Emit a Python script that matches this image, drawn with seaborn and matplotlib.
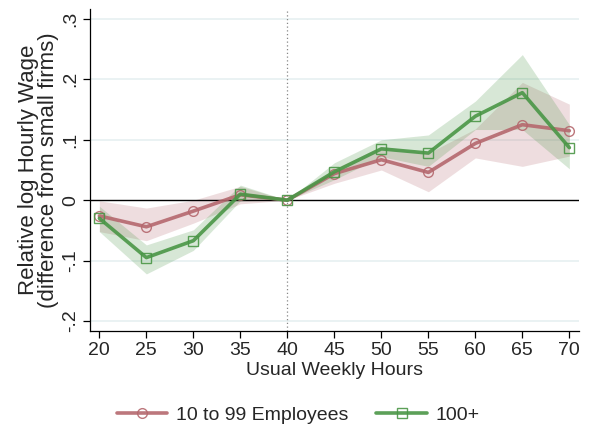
import numpy as np
import pandas as pd
import seaborn as sns
import matplotlib.pyplot as plt

hours = [20, 25, 30, 35, 40, 45, 50, 55, 60, 65, 70]

# 10 to 99 employees
mid_coef = [-0.026, -0.044, -0.018, 0.009, 0.0, 0.044, 0.067, 0.046, 0.094, 0.125, 0.115]
mid_lo = [-0.052, -0.067, -0.038, -0.006, 0.0, 0.028, 0.050, 0.014, 0.070, 0.056, 0.073]
mid_hi = [-0.001, -0.013, 0.000, 0.023, 0.0, 0.052, 0.089, 0.078, 0.118, 0.195, 0.159]

# 100+ employees
big_coef = [-0.030, -0.095, -0.067, 0.010, 0.0, 0.047, 0.085, 0.078, 0.139, 0.178, 0.087]
big_lo = [-0.052, -0.122, -0.083, -0.001, 0.0, 0.034, 0.072, 0.056, 0.117, 0.117, 0.052]
big_hi = [-0.010, -0.074, -0.049, 0.025, 0.0, 0.062, 0.100, 0.108, 0.164, 0.241, 0.125]

labels = ['10 to 99 Employees', '100+']
red = '#b5686e'
green = '#4a9646'

df = pd.DataFrame({
    'hours': hours * 2,
    'coef': mid_coef + big_coef,
    'group': [labels[0]] * len(hours) + [labels[1]] * len(hours),
})

sns.set_style('white')
plt.rcParams['font.family'] = ['Liberation Sans', 'DejaVu Sans']

fig = plt.figure(figsize=(6.15, 4.3), dpi=100)
ax = fig.add_axes([0.1463, 0.2309, 0.7952, 0.7475])

# grid lines (stata style)
for yv in [-0.2, -0.1, 0.1, 0.2, 0.3]:
    ax.axhline(yv, color='#e6f0f1', lw=1.2, zorder=0)

ax.fill_between(hours, mid_lo, mid_hi, color='#b5686e', alpha=0.22, lw=0, zorder=1)
ax.fill_between(hours, big_lo, big_hi, color='#4a9646', alpha=0.22, lw=0, zorder=1)

ax.axhline(0, color='black', lw=1, zorder=2)
ax.axvline(40, color='#888888', lw=0.9, ls=(0, (1, 2)), zorder=2)

sns.lineplot(data=df, x='hours', y='coef', hue='group', style='group',
             palette=[red, green], markers=['o', 's'], dashes=False,
             lw=2.6, markersize=7, markerfacecolor='none',
             markeredgewidth=1.0, ax=ax, zorder=3, legend=False)
for ln, c in zip(ax.lines[-2:], [red, green]):
    ln.set_markeredgecolor(c)
    ln.set_alpha(0.9)

ax.set_xlim(19, 71.03)
ax.set_ylim(-0.216, 0.316)
ax.set_xticks(hours)
ax.set_yticks([-0.2, -0.1, 0, 0.1, 0.2, 0.3])
ax.set_yticklabels(['-.2', '-.1', '0', '.1', '.2', '.3'], rotation=90, va='center')
ax.tick_params(axis='both', direction='out', length=5, width=0.9, labelsize=14,
               left=True, bottom=True, color='black', pad=3)
for s in ['top', 'right']:
    ax.spines[s].set_visible(False)
for s in ['left', 'bottom']:
    ax.spines[s].set_color('black')
    ax.spines[s].set_linewidth(0.9)

ax.set_xlabel('Usual Weekly Hours', fontsize=14, labelpad=2)
ax.set_ylabel('Relative log Hourly Wage\n(difference from small firms)', fontsize=16,
              labelpad=2, linespacing=0.95)

handles = [
    plt.Line2D([], [], color=red, lw=2.6, marker='o', markersize=7,
               markerfacecolor='none', markeredgecolor=red, alpha=0.9),
    plt.Line2D([], [], color=green, lw=2.6, marker='s', markersize=7,
               markerfacecolor='none', markeredgecolor=green, alpha=0.9),
]
fig.legend(handles, labels, loc='center', bbox_to_anchor=(0.485, 0.035), ncol=2,
           frameon=False, fontsize=14, handlelength=2.6, columnspacing=1.45,
           handletextpad=0.45)

fig.savefig('out.png', dpi=100)
